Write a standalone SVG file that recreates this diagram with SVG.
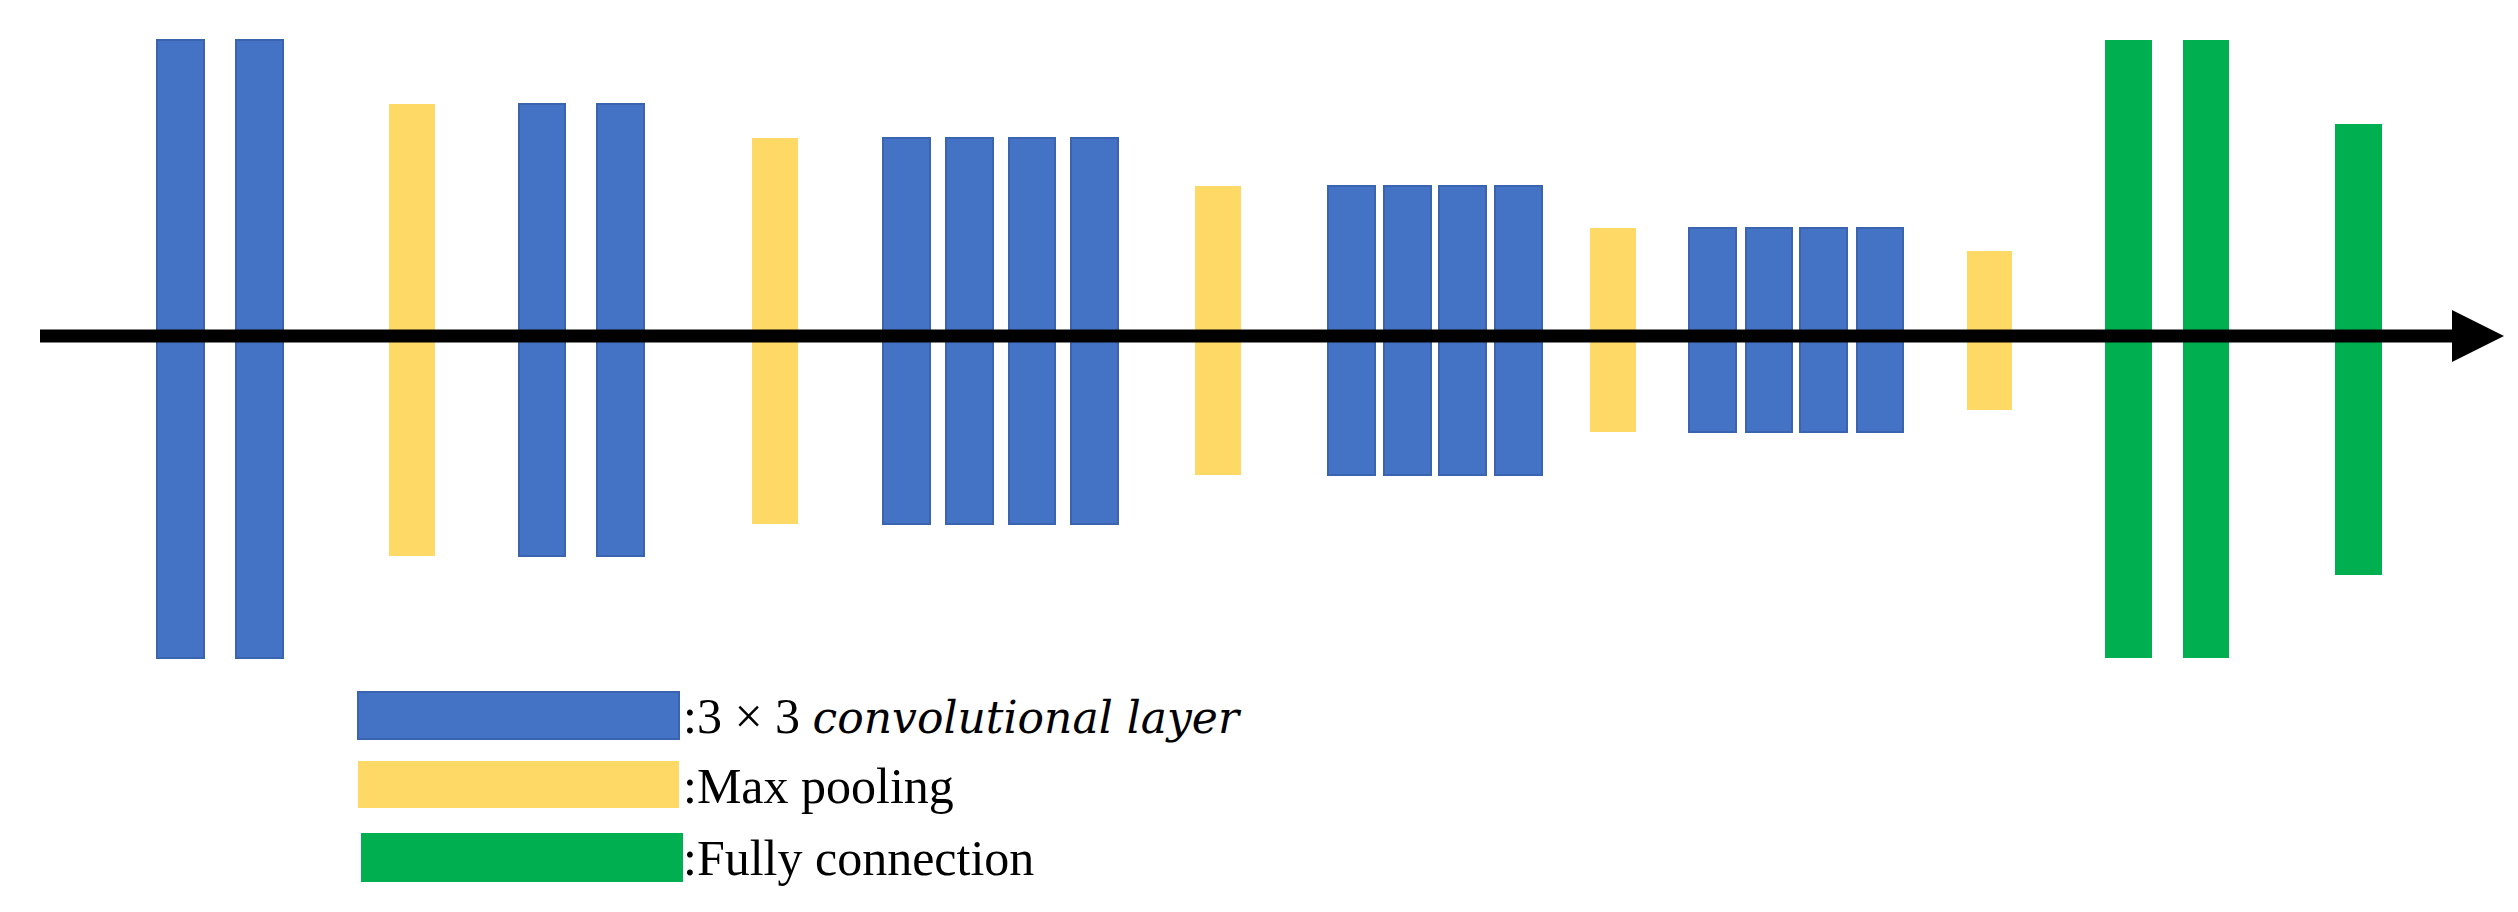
<svg xmlns="http://www.w3.org/2000/svg" width="2518" height="912" viewBox="0 0 2518 912">
<style>
.c{fill:#4472C4;stroke:#3A64B0;stroke-width:2}
.p{fill:#FFD966}
.f{fill:#00B050}
.t{font-family:"Liberation Serif",serif;font-size:50px;fill:#000}
.i{font-family:"DejaVu Serif","Liberation Serif",serif;font-style:italic;font-size:44px}
</style>
<defs><marker id="ah" markerWidth="4" markerHeight="4" refX="2" refY="2" orient="auto"><path d="M0,0 L4,2 L0,4 Z" fill="#000"/></marker></defs>
<g id="nodes">
<g id="conv1"><rect class="c" x="157" y="40" width="47" height="618"/><rect class="c" x="236" y="40" width="47" height="618"/></g>
<g id="pool1"><rect class="p" x="389" y="104" width="46" height="452"/></g>
<g id="conv2"><rect class="c" x="519" y="104" width="46" height="452"/><rect class="c" x="597" y="104" width="47" height="452"/></g>
<g id="pool2"><rect class="p" x="752" y="138" width="46" height="386"/></g>
<g id="conv3"><rect class="c" x="883" y="138" width="47" height="386"/><rect class="c" x="946" y="138" width="47" height="386"/><rect class="c" x="1009" y="138" width="46" height="386"/><rect class="c" x="1071" y="138" width="47" height="386"/></g>
<g id="pool3"><rect class="p" x="1195" y="186" width="46" height="289"/></g>
<g id="conv4"><rect class="c" x="1328" y="186" width="47" height="289"/><rect class="c" x="1384" y="186" width="47" height="289"/><rect class="c" x="1439" y="186" width="47" height="289"/><rect class="c" x="1495" y="186" width="47" height="289"/></g>
<g id="pool4"><rect class="p" x="1590" y="228" width="46" height="204"/></g>
<g id="conv5"><rect class="c" x="1689" y="228" width="47" height="204"/><rect class="c" x="1746" y="228" width="46" height="204"/><rect class="c" x="1800" y="228" width="47" height="204"/><rect class="c" x="1857" y="228" width="46" height="204"/></g>
<g id="pool5"><rect class="p" x="1967" y="251" width="45" height="159"/></g>
<g id="fc"><rect class="f" x="2105" y="40" width="47" height="618"/><rect class="f" x="2183" y="40" width="46" height="618"/><rect class="f" x="2335" y="124" width="47" height="451"/></g>
</g>
<g id="connectors"><line x1="40" y1="336" x2="2478" y2="336" stroke="#000" stroke-width="13" marker-end="url(#ah)"/></g>
<g id="legend">
<rect class="c" x="358" y="692" width="321" height="47"/>
<rect class="p" x="358" y="761" width="321" height="47"/>
<rect class="f" x="361" y="833" width="322" height="49"/>
<text class="t" x="683" y="733">:3 × 3 <tspan class="i">convolutional layer</tspan></text>
<text class="t" x="683" y="803">:Max pooling</text>
<text class="t" x="683" y="875">:Fully connection</text>
</g>
</svg>
